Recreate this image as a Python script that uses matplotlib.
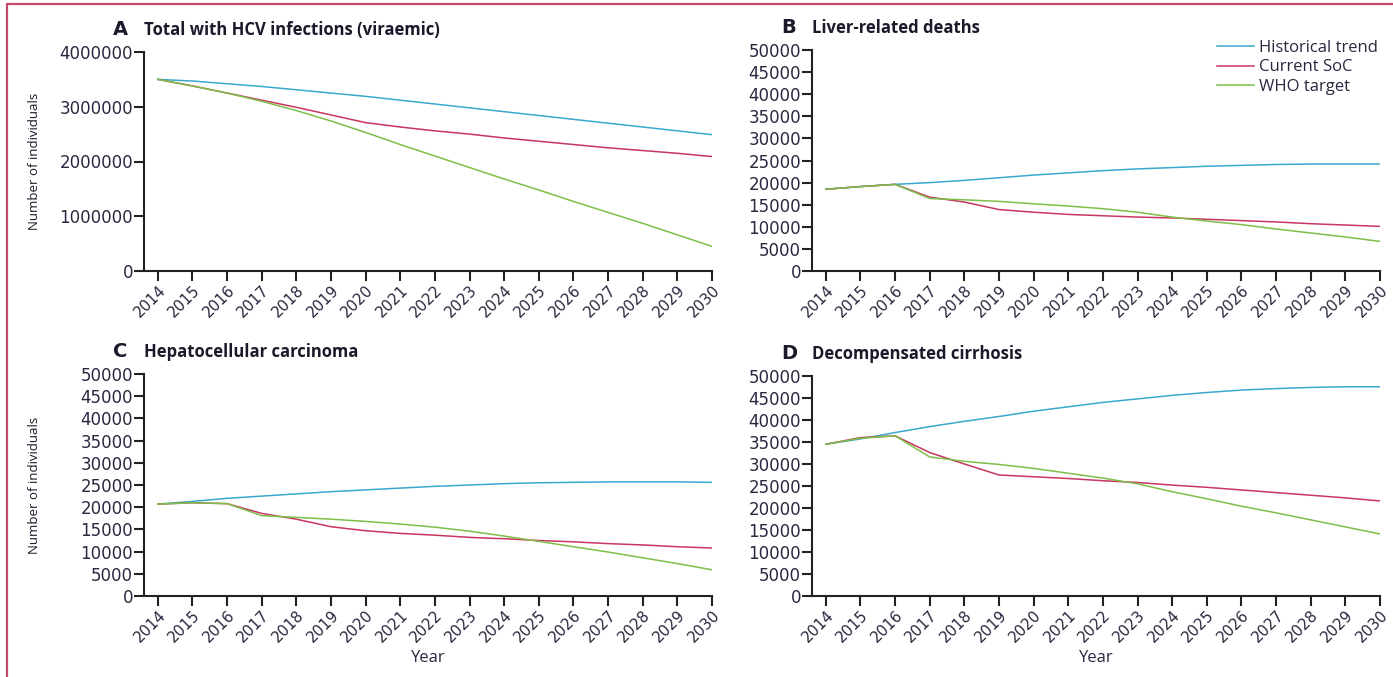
import numpy as np
import matplotlib
matplotlib.use("Agg")
import matplotlib.pyplot as plt
from matplotlib.patches import Rectangle
from matplotlib.transforms import offset_copy

# Years on the x axis
years = np.arange(2014, 2031)

# A: total with HCV infections (viraemic)
hcv_hist = [3500000, 3470000, 3420000, 3370000, 3310000, 3250000, 3190000, 3120000, 3050000,
            2980000, 2910000, 2840000, 2770000, 2700000, 2630000, 2560000, 2490000]
hcv_soc = [3500000, 3380000, 3250000, 3120000, 2990000, 2850000, 2710000, 2630000, 2560000,
           2500000, 2430000, 2370000, 2310000, 2250000, 2200000, 2150000, 2090000]
hcv_who = [3500000, 3380000, 3250000, 3100000, 2930000, 2740000, 2530000, 2310000, 2100000,
           1890000, 1680000, 1480000, 1270000, 1070000, 870000, 660000, 450000]

# B: liver-related deaths
lrd_hist = [18500, 19100, 19600, 20000, 20500, 21100, 21700, 22200, 22700,
            23100, 23400, 23700, 23900, 24100, 24200, 24200, 24200]
lrd_soc = [18500, 19100, 19600, 16700, 15600, 13900, 13300, 12800, 12500,
           12200, 12000, 11700, 11400, 11100, 10700, 10400, 10100]
lrd_who = [18500, 19100, 19600, 16400, 16100, 15750, 15200, 14700, 14100,
           13300, 12200, 11300, 10500, 9500, 8600, 7700, 6700]

# C: hepatocellular carcinoma
hcc_hist = [20700, 21300, 22000, 22500, 23000, 23500, 23900, 24300, 24700,
            25000, 25300, 25500, 25600, 25700, 25700, 25700, 25600]
hcc_soc = [20700, 21000, 20800, 18600, 17300, 15600, 14700, 14100, 13700,
           13200, 12900, 12500, 12200, 11800, 11500, 11100, 10800]
hcc_who = [20700, 21000, 20800, 18100, 17700, 17300, 16800, 16200, 15500,
           14600, 13500, 12300, 11100, 9900, 8600, 7300, 5900]

# D: decompensated cirrhosis
dc_hist = [34500, 35700, 37150, 38500, 39700, 40800, 42000, 43000, 44000,
           44800, 45600, 46250, 46800, 47150, 47400, 47550, 47550]
dc_soc = [34500, 36000, 36400, 32600, 30000, 27500, 27100, 26700, 26200,
          25800, 25200, 24700, 24100, 23500, 22900, 22300, 21600]
dc_who = [34500, 35850, 36400, 31600, 30600, 29900, 29000, 27900, 26800,
          25500, 23700, 22100, 20400, 18900, 17300, 15700, 14100]

series_names = ["Historical trend", "Current SoC", "WHO target"]
colors = ["#3aa8cc", "#c7375e", "#7dbf48"]

txt = "#2a2840"
plt.rcParams["font.family"] = ["DejaVu Sans"]

fig = plt.figure(figsize=(13.93, 6.77), dpi=100)

W = 1393.0
H = 677.0


def box(x0, y0, x1, y1):
    return [x0 / W, 1 - y1 / H, (x1 - x0) / W, (y1 - y0) / H]


panels = [
    ("A", "Total with HCV infections (viraemic)", box(144, 52, 712, 271),
     (hcv_hist, hcv_soc, hcv_who), 4000000, 1000000, True, False),
    ("B", "Liver-related deaths", box(812, 50, 1380, 271),
     (lrd_hist, lrd_soc, lrd_who), 50000, 5000, False, False),
    ("C", "Hepatocellular carcinoma", box(144, 374, 712, 596),
     (hcc_hist, hcc_soc, hcc_who), 50000, 5000, True, True),
    ("D", "Decompensated cirrhosis", box(812, 376, 1380, 596),
     (dc_hist, dc_soc, dc_who), 50000, 5000, False, True),
]

axes = []
for letter, title, rect, data, ymax, ystep, ylab, xlab in panels:
    ax = fig.add_axes(rect)
    for vals, name, c in zip(data, series_names, colors):
        ax.plot(years, vals, color=c, lw=1.1, label=name)
    ax.set_xlim(2013.6, 2030)
    ax.set_ylim(0, ymax)
    ax.set_xticks(years)
    ax.set_xticklabels([str(y) for y in years], rotation=45, ha="right",
                       rotation_mode="anchor", fontsize=10.8, color=txt)
    yt = np.arange(0, ymax + 1, ystep)
    ax.set_yticks(yt)
    ax.set_yticklabels([str(int(v)) for v in yt], fontsize=12, color=txt)
    ax.spines["top"].set_visible(False)
    ax.spines["right"].set_visible(False)
    for s in ("left", "bottom"):
        ax.spines[s].set_linewidth(1.5)
        ax.spines[s].set_color("#222222")
    ax.tick_params(axis="both", length=7, width=1.5, color="#222222")
    ax.tick_params(axis="y", pad=1)
    ax.tick_params(axis="x", pad=1)
    ax.text(0, 1.0, letter,
            transform=offset_copy(ax.transAxes, fig=fig, x=-31, y=13, units="dots"),
            fontsize=14, fontweight="bold", color="#1a1a2a", va="bottom", ha="left")
    ax.text(0, 1.0, title,
            transform=offset_copy(ax.transAxes, fig=fig, x=0, y=13, units="dots"),
            fontsize=12, fontweight="bold", color="#1a1a2a", va="bottom", ha="left",
            family="Open Sans")
    if ylab:
        ax.set_ylabel("Number of individuals", fontsize=9.5, color="#1a1a2a",
                      family="Open Sans")
        ax.yaxis.set_label_coords(-103 / 568, 0.5)
    if xlab:
        ax.set_xlabel("Year", fontsize=12, color=txt, family="Open Sans")
        ax.xaxis.set_label_coords(0.5, -54 / 221)
    axes.append(ax)

axes[1].legend(loc="upper right", bbox_to_anchor=(1393 / W, 1 - 25 / H),
               bbox_transform=fig.transFigure, frameon=False,
               handlelength=2.2, handletextpad=0.3, labelspacing=0.2,
               labelcolor=txt, prop={"family": "Open Sans", "size": 12})

# outer frame
fig.patches.append(Rectangle((7 / W, -0.05), 1.2, 1 - 4 / H + 0.05, transform=fig.transFigure,
                             fill=False, edgecolor="#c44a6c", lw=1.6))

fig.savefig("out.png", dpi=100)
